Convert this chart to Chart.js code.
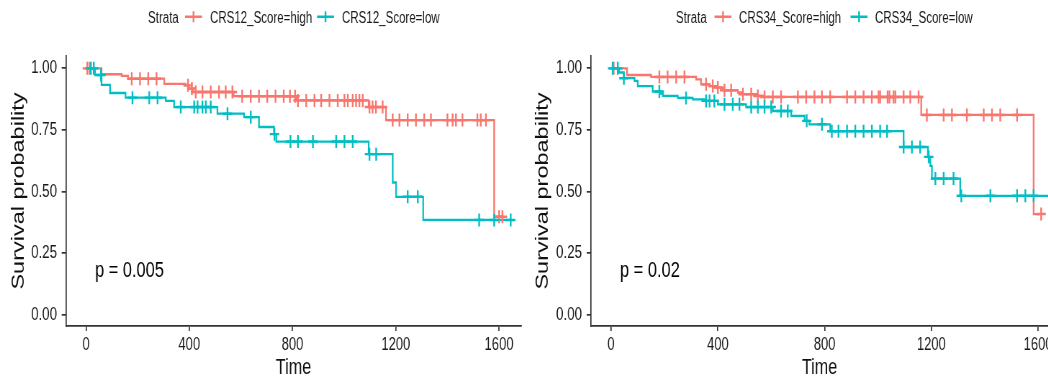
<!DOCTYPE html>
<html><head><meta charset="utf-8">
<script src="https://cdn.jsdelivr.net/npm/chart.js@4"></script>
<style>
html,body{margin:0;padding:0;background:#fff;overflow:hidden;width:1048px;height:381px;}
.panel{position:absolute;top:0;width:728px;height:381px;transform:scaleX(0.72);transform-origin:0 0;}
canvas{display:block;}
</style></head><body>
<div class="panel" style="left:0"><canvas id="c1" width="728" height="381"></canvas></div>
<div class="panel" style="left:524px"><canvas id="c2" width="728" height="381"></canvas></div>
<script>
// ---------- data ----------
const xTickValues = [0, 400, 800, 1200, 1600];
const yTickValues = [0, 0.25, 0.5, 0.75, 1];
const legendTitle = 'Strata';

// Panel 1: CRS12
const p1Names = ['CRS12_Score=high', 'CRS12_Score=low'];
const p1PValue = 'p = 0.005';
const p1HighTimes = [0, 60, 138, 163, 303, 385, 398, 414, 572, 816, 1095, 1162, 1581];
const p1HighSurv  = [1.0, 0.976, 0.969, 0.958, 0.937, 0.931, 0.918, 0.904, 0.887, 0.870, 0.843, 0.790, 0.398];
const p1HighEnd = 1613;
const p1HighCensor = [5, 14, 177, 209, 241, 273, 395, 410, 425, 451, 483, 515, 541, 567, 605, 638, 670, 702, 734, 766, 790, 810, 821, 853, 885, 911, 943, 975, 1001, 1014, 1033, 1046, 1059, 1072, 1098, 1110, 1123, 1149, 1188, 1214, 1246, 1278, 1310, 1336, 1400, 1420, 1433, 1458, 1516, 1529, 1549, 1600, 1613];
const p1LowTimes = [0, 35, 60, 93, 153, 309, 341, 509, 612, 670, 728, 737, 1095, 1188, 1201, 1306];
const p1LowSurv  = [1.0, 0.973, 0.933, 0.900, 0.881, 0.868, 0.843, 0.816, 0.802, 0.762, 0.733, 0.703, 0.652, 0.537, 0.479, 0.385];
const p1LowEnd = 1650;
const p1LowCensor = [19, 30, 58, 180, 245, 277, 367, 419, 432, 451, 464, 483, 548, 638, 730, 792, 821, 879, 969, 1001, 1033, 1098, 1124, 1246, 1285, 1523, 1581, 1645];

// Panel 2: CRS34
const p2Names = ['CRS34_Score=high', 'CRS34_Score=low'];
const p2PValue = 'p = 0.02';
const p2HighTimes = [0, 60, 150, 319, 337, 369, 394, 419, 475, 494, 550, 575, 1162, 1583];
const p2HighSurv  = [1.0, 0.973, 0.965, 0.955, 0.935, 0.928, 0.922, 0.911, 0.902, 0.895, 0.888, 0.884, 0.811, 0.409];
const p2HighEnd = 1611;
const p2HighCensor = [10, 181, 212, 244, 275, 356, 381, 400, 425, 450, 494, 525, 550, 575, 606, 637, 700, 731, 762, 790, 821, 884, 915, 946, 977, 1002, 1008, 1036, 1043, 1058, 1065, 1096, 1121, 1152, 1183, 1246, 1277, 1333, 1396, 1427, 1458, 1521, 1611];
const p2LowTimes = [0, 30, 48, 88, 100, 156, 187, 194, 250, 306, 350, 400, 506, 606, 675, 725, 743, 821, 1096, 1187, 1196, 1202, 1308];
const p2LowSurv  = [1.0, 0.983, 0.960, 0.949, 0.928, 0.906, 0.898, 0.888, 0.880, 0.874, 0.868, 0.854, 0.843, 0.827, 0.807, 0.787, 0.773, 0.745, 0.681, 0.641, 0.604, 0.553, 0.483];
const p2LowEnd = 1660;
const p2LowCensor = [6, 25, 48, 181, 281, 356, 369, 387, 425, 456, 481, 525, 550, 575, 600, 637, 662, 733, 790, 827, 852, 884, 915, 946, 977, 1008, 1034, 1096, 1127, 1158, 1190, 1215, 1246, 1283, 1312, 1421, 1521, 1552, 1583];

// ---------- styling ----------
const RED = '#F8766D', TEAL = '#00BFC4';
const FONT = "'Liberation Sans', Arial, Helvetica, sans-serif";
const SQ = 0.72; // horizontal squash of the reference image
const AREA_TOP = 56, AREA_BOTTOM = 326;

function survAt(times, surv, t) {
  let s = surv[0];
  for (let i = 0; i < times.length; i++) { if (times[i] <= t) s = surv[i]; }
  return s;
}
function stepData(times, surv, end) {
  const d = times.map((t, i) => ({x: t, y: surv[i]}));
  d.push({x: end, y: surv[surv.length - 1]});
  return d;
}
function censorData(times, surv, cens) {
  return cens.map(t => ({x: t, y: survAt(times, surv, t)}));
}

function makePanel(canvasId, o) {
  const L = o.areaLeft, R = o.areaRight;
  const overlay = {
    id: 'overlay',
    afterLayout(chart) {
      const x = chart.scales.x, y = chart.scales.y, ca = chart.chartArea;
      ca.left = L; ca.right = R; ca.width = R - L;
      x.left = L; x.right = R; x.width = R - L; x.configure();
      y.left = 0; y.right = L; y.width = L; y.configure();
    },
    afterDraw(chart) {
      const ctx = chart.ctx;
      ctx.save();
      ctx.font = '16px ' + FONT;
      ctx.fillStyle = '#1a1a1a';
      ctx.textBaseline = 'alphabetic';
      ctx.textAlign = 'left';
      const by = 22.5, ky = 16.8;
      ctx.fillText(legendTitle, o.leg.title, by);
      const keys = [[o.leg.k1, RED, o.names[0], o.leg.t1], [o.leg.k2, TEAL, o.names[1], o.leg.t2]];
      keys.forEach(([kx, col, name, tx]) => {
        ctx.strokeStyle = col;
        ctx.lineWidth = 2.4;
        ctx.beginPath();
        ctx.moveTo(kx - 11.8, ky); ctx.lineTo(kx + 11.8, ky);
        ctx.moveTo(kx, ky - 5.5); ctx.lineTo(kx, ky + 5.5);
        ctx.stroke();
        ctx.fillStyle = '#1a1a1a';
        ctx.fillText(name, tx, by);
      });
      ctx.font = '22.8px ' + FONT;
      ctx.fillStyle = '#000';
      ctx.fillText(o.pval, o.pvalX, 277);
      ctx.restore();
    }
  };
  return new Chart(document.getElementById(canvasId), {
    type: 'line',
    data: {
      datasets: [
        {label: o.names[0], data: stepData(o.hT, o.hS, o.hE), stepped: 'before', borderColor: RED, borderWidth: 2.3, pointRadius: 0, fill: false, order: 4},
        {label: o.names[1], data: stepData(o.lT, o.lS, o.lE), stepped: 'before', borderColor: TEAL, borderWidth: 2.3, pointRadius: 0, fill: false, order: 3},
        {label: o.names[0] + ' censor', data: censorData(o.hT, o.hS, o.hC), showLine: false, pointStyle: 'cross', pointRadius: 6.5, pointBorderWidth: 2.4, borderColor: RED, backgroundColor: RED, order: 2},
        {label: o.names[1] + ' censor', data: censorData(o.lT, o.lS, o.lC), showLine: false, pointStyle: 'cross', pointRadius: 6.5, pointBorderWidth: 2.4, borderColor: TEAL, backgroundColor: TEAL, order: 1}
      ]
    },
    options: {
      responsive: false,
      animation: false,
      devicePixelRatio: 1,
      layout: {padding: {left: 0, top: AREA_TOP, right: 728 - R, bottom: 0}},
      plugins: {legend: {display: false}, tooltip: {enabled: false}},
      scales: {
        x: {
          type: 'linear', min: o.xMin, max: o.xMax, bounds: 'data',
          afterBuildTicks: s => { s.ticks = xTickValues.map(v => ({value: v})); },
          afterFit: s => { s.height = 381 - AREA_BOTTOM; s.paddingLeft = 0; s.paddingRight = 0; },
          ticks: {callback: v => String(v), color: '#1a1a1a', font: {family: FONT, size: 18}, padding: 3, maxRotation: 0, autoSkip: false},
          grid: {drawOnChartArea: false, drawTicks: true, tickLength: 5, color: '#333', lineWidth: 1.7},
          border: {display: true, color: '#333', width: 1.7},
          title: {display: true, text: 'Time', color: '#111', font: {family: FONT, size: 22.5, lineHeight: 1.2}, padding: 0}
        },
        y: {
          type: 'linear', min: -0.045, max: 1.05, bounds: 'data',
          afterBuildTicks: s => { s.ticks = yTickValues.map(v => ({value: v})); },
          afterFit: s => { s.width = L; s.paddingTop = 0; s.paddingBottom = 0; },
          ticks: {callback: v => Number(v).toFixed(2), color: '#1a1a1a', font: {family: FONT, size: 18.5}, padding: 6.5},
          grid: {drawOnChartArea: false, drawTicks: true, tickLength: 6, color: '#333', lineWidth: 1.7},
          border: {display: true, color: '#333', width: 1.7},
          title: {display: true, text: 'Survival probability', color: '#111', font: {family: FONT, size: 23.5, lineHeight: 1.2}, padding: {top: 12.3, bottom: 0}}
        }
      }
    },
    plugins: [overlay]
  });
}

makePanel('c1', {
  names: p1Names, pval: p1PValue, pvalX: 95 / SQ,
  hT: p1HighTimes, hS: p1HighSurv, hE: p1HighEnd, hC: p1HighCensor,
  lT: p1LowTimes, lS: p1LowSurv, lE: p1LowEnd, lC: p1LowCensor,
  xMin: -77.5, xMax: 1685, areaLeft: 66 / SQ, areaRight: 521 / SQ,
  leg: {title: 148 / SQ, k1: 193.5 / SQ, t1: 210 / SQ, k2: 325.5 / SQ, t2: 342 / SQ}
});
makePanel('c2', {
  names: p2Names, pval: p2PValue, pvalX: (620 - 524) / SQ,
  hT: p2HighTimes, hS: p2HighSurv, hE: p2HighEnd, hC: p2HighCensor,
  lT: p2LowTimes, lS: p2LowSurv, lE: p2LowEnd, lC: p2LowCensor,
  xMin: -75, xMax: 1637.5, areaLeft: (591 - 524) / SQ, areaRight: 728,
  leg: {title: (676 - 524) / SQ, k1: (723 - 524) / SQ, t1: (739 - 524) / SQ, k2: (859 - 524) / SQ, t2: (875 - 524) / SQ}
});
</script>
</body></html>
